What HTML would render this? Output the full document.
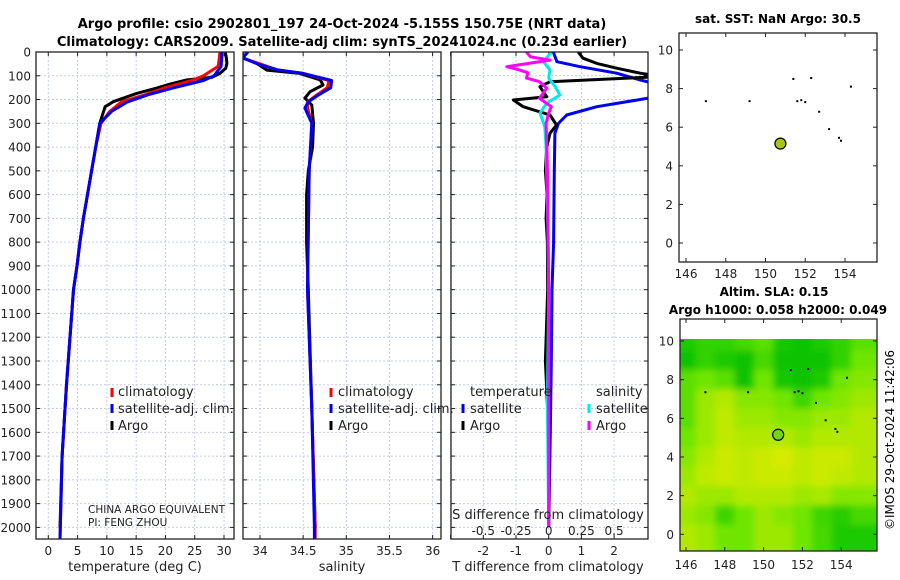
<!DOCTYPE html>
<html><head><meta charset="utf-8"><style>
html,body{margin:0;padding:0;background:#fff;}
svg{display:block;font-family:"DejaVu Sans","Liberation Sans",sans-serif;}
</style></head><body>
<svg id="fig" xmlns="http://www.w3.org/2000/svg" width="900" height="580" viewBox="0 0 900 580">
<defs>
<clipPath id="c1"><rect x="36" y="52" width="198" height="487"/></clipPath>
<clipPath id="c2"><rect x="243" y="52" width="198" height="487"/></clipPath>
<clipPath id="c3"><rect x="451" y="52" width="197" height="487"/></clipPath>
<clipPath id="cm2"><rect x="680" y="339" width="197" height="212"/></clipPath>
<filter id="blur" x="-5%" y="-5%" width="110%" height="110%"><feGaussianBlur stdDeviation="3.5"/></filter>
</defs>
<text x="342" y="28" text-anchor="middle" font-size="13" font-weight="bold">Argo profile: csio 2902801_197 24-Oct-2024 -5.155S 150.75E (NRT data)</text>
<text x="342" y="46" text-anchor="middle" font-size="13" font-weight="bold">Climatology: CARS2009. Satellite-adj clim: synTS_20241024.nc (0.23d earlier)</text>
<text x="778" y="23" text-anchor="middle" font-size="12" font-weight="bold">sat. SST: NaN Argo: 30.5</text>
<text x="774" y="296" text-anchor="middle" font-size="12" font-weight="bold">Altim. SLA: 0.15</text>
<text x="778" y="314" text-anchor="middle" font-size="12" font-weight="bold">Argo h1000: 0.058 h2000: 0.049</text>
<text transform="translate(894,440) rotate(-90)" text-anchor="middle" font-size="12">©IMOS 29-Oct-2024 11:42:06</text>
<g id="layer"></g>
</svg>
<script>
// ---- data ----
const depthTicks = [0,100,200,300,400,500,600,700,800,900,1000,1100,1200,1300,1400,1500,1600,1700,1800,1900,2000];
const tempTicks = [0,5,10,15,20,25,30];
const salTicks = [34,34.5,35,35.5,36];
const salTickLabels = ["34","34.5","35","35.5","36"];
const dTTicks = [-2,-1,0,1,2];
const dSTicks = [-0.5,-0.25,0,0.25,0.5];
const dSTickLabels = ["-0.5","-0.25","0","0.25","0.5"];

const argoDepth = [0,25,48,68,90,106,118,135,152,174,209,230,300,400,500,600,700,800,900,1000,1200,1400,1700,2000];
const argoTemp  = [30.2,30.4,30.5,30.3,29.3,28.0,23.6,20.8,18.5,15.1,11.1,9.7,8.8,8.1,7.4,6.7,6.0,5.4,4.9,4.3,3.7,3.1,2.35,2.0];
const climDepth = [0,25,60,100,120,150,180,210,250,300,400,500,600,700,800,900,1000,1200,1400,1700,2000,2050];
const climTemp  = [29.3,29.2,29.0,26.5,24.5,20.0,16.5,12.5,10.5,9.0,8.1,7.4,6.7,6.0,5.4,4.9,4.3,3.7,3.1,2.35,2.05,2.0];
const satTemp   = [29.6,29.6,29.5,28.3,26.5,21.5,17.0,13.5,10.8,8.8,8.1,7.4,6.7,6.0,5.4,4.9,4.3,3.7,3.1,2.35,2.05,2.0];

const salArgoDepth = [0,25,47,76,90,118,139,167,194,223,300,400,500,600,800,1000,1500,2000];
const argoSal = [33.80,33.80,33.96,34.08,34.46,34.70,34.73,34.58,34.52,34.60,34.62,34.61,34.56,34.54,34.54,34.56,34.60,34.64];
const salClimDepth = [0,25,50,75,90,120,150,180,210,235,260,300,500,1000,1500,2000,2050];
const climSal = [33.80,33.80,34.00,34.20,34.50,34.80,34.78,34.66,34.55,34.55,34.57,34.60,34.57,34.55,34.60,34.64,34.64];
const satSal  = [33.86,33.80,33.97,34.20,34.50,34.83,34.82,34.68,34.56,34.52,34.55,34.60,34.57,34.55,34.60,34.63,34.63];

const dDepth = [0,41,62,89,118,160,195,230,265,300,342,500,800,1000,1300,1600,2000];
const dTSat  = [0.14,0.25,0.96,2.08,2.8,4.0,3.0,1.47,0.55,0.3,0.19,0.17,0.15,0.1,0.08,0.05,0.0];
const dTArgoDepth = [0,26,48,68,89,100,106,125,146,188,202,230,265,307,342,400,500,600,700,800,1000,1300,1600,2000];
const dTArgo = [0.9,1.05,1.47,2.08,2.8,3.3,3.0,0.04,-0.27,-0.06,-1.08,-0.78,0.04,0.24,0.04,-0.06,-0.1,-0.05,-0.08,-0.04,-0.03,-0.1,0.0,0.0];
const dSSatDepth = [0,41,76,110,146,181,215,257,315,400,600,1000,1500,2000];
const dSSat = [0.02,-0.04,0.01,0.0,0.05,0.086,-0.015,-0.066,-0.03,-0.02,-0.01,0.0,-0.01,0.0];
const dSArgoDepth = [0,20,34,62,76,87,110,125,152,195,230,257,300,500,1000,1500,2000];
const dSArgo = [-0.17,-0.14,0.01,-0.32,-0.22,-0.16,-0.17,-0.07,-0.015,-0.07,0.02,0.0,-0.02,-0.01,0.0,0.0,0.0];

const mapLonTicks = [146,148,150,152,154];
const slaLatTicks = [0,2,4,6,8,10];
const argoLon = 150.75, argoLat = 5.15;
const dotLon = [147.0,149.2,151.4,152.3,151.6,151.8,152.0,152.7,153.2,153.7,153.8,154.3];
const dotLat = [7.35,7.35,8.5,8.55,7.35,7.4,7.3,6.8,5.9,5.45,5.3,8.1];
const slaLats = [10,9,8,7,6,5,4,3,2,1,0,-1];
const slaLons = [146,147,148,149,150,151,152,153,154,155];
const slaRows = [
 [0.1,0.2,0.2,0.3,0.4,0.05,0.0,0.1,0.2,0.4],
 [0.0,0.2,0.1,0.0,0.3,0.0,0.0,0.0,0.2,0.5],
 [0.4,0.5,0.4,0.0,0.5,0.05,0.0,0.1,0.5,0.6],
 [0.4,0.7,0.8,0.6,0.6,0.5,0.25,0.5,0.6,0.7],
 [0.4,0.7,0.85,0.7,0.7,0.6,0.6,0.7,0.7,0.8],
 [0.5,0.7,0.85,0.8,0.8,0.8,0.7,0.8,0.8,0.8],
 [0.6,0.8,0.9,0.85,0.9,0.95,0.85,0.9,0.9,0.8],
 [0.7,0.85,0.9,0.85,0.9,0.9,0.85,0.9,0.85,0.8],
 [0.8,0.7,0.7,0.8,0.8,0.8,0.7,0.75,0.6,0.6],
 [0.7,0.6,0.25,0.5,0.7,0.6,0.5,0.25,0.15,0.3],
 [0.8,0.7,0.5,0.5,0.7,0.7,0.5,0.3,0.1,0.1],
 [0.8,0.7,0.5,0.5,0.7,0.7,0.5,0.3,0.1,0.1]
];

// ---- helpers ----
const NS = "http://www.w3.org/2000/svg";
const layer = document.getElementById("layer");
function mk(tag, attrs, parent) {
  const e = document.createElementNS(NS, tag);
  for (const k in attrs) e.setAttribute(k, attrs[k]);
  (parent || layer).appendChild(e);
  return e;
}
const yD = d => 52 + d * 0.2377;
const xT = t => 48.3 + t * 5.857;
const xS = s => 260 + (s - 34) * 86.3;
const xdT = v => 548.7 + v * 32.7;
const xdS = v => 548.7 + v * 130.8;
const m1x = lon => 686 + (lon - 146) * 19.875;
const m1y = lat => 243 - lat * 19.3;
const m2x = lon => 686 + (lon - 146) * 19.4;
const m2y = lat => 534.3 - lat * 19.33;

function frame(x0, x1, xticks, xfn, name) {
  const g = mk("g", {});
  
  
  depthTicks.forEach(d => {
    const l = mk("line", {x1:x0,x2:x1,y1:yD(d),y2:yD(d),stroke:"#c4cbe6","stroke-width":1,"stroke-dasharray":"2,2"}, g);
    
    
    mk("line", {x1:x0,x2:x0+4,y1:yD(d),y2:yD(d),stroke:"#222"}, g);
    mk("line", {x1:x1-4,x2:x1,y1:yD(d),y2:yD(d),stroke:"#222"}, g);
  });
  xticks.forEach(v => {
    const x = xfn(v);
    const l = mk("line", {x1:x,x2:x,y1:52,y2:539,stroke:"#c4cbe6","stroke-width":1,"stroke-dasharray":"2,2"}, g);
    
    
    mk("line", {x1:x,x2:x,y1:535,y2:539,stroke:"#222"}, g);
    mk("line", {x1:x,x2:x,y1:52,y2:56,stroke:"#222"}, g);
  });
  return g;
}
function box(x0, y0, x1, y1, name) {
  const r = mk("rect", {x:x0,y:y0,width:x1-x0,height:y1-y0,fill:"none",stroke:"#222","stroke-width":1.3});
  
  
}
function series(depths, vals, xfn, color, clip, name, w) {
  const pts = depths.map((d, i) => xfn(vals[i]).toFixed(1) + "," + yD(d).toFixed(1)).join(" ");
  const p = mk("polyline", {points:pts,fill:"none",stroke:color,"stroke-width":w||3,"stroke-linejoin":"round","clip-path":"url(#" + clip + ")"});
  
  
}
function text(x, y, s, anchor, size, name) {
  const t = mk("text", {x:x,y:y,"text-anchor":anchor,"font-size":size,fill:"#222"});
  t.textContent = s;
  
  
  return t;
}
function legendMark(x, y, color, name) {
  const r = mk("rect", {x:x-1.5,y:y-4,width:3,height:9,fill:color});
  
  
}

// ---- panel 1: temperature ----
frame(36, 234, tempTicks, xT, "temperature-panel-grid");
depthTicks.forEach(d => text(31, yD(d) + 4.5, String(d), "end", 12, "depth-tick-label"));
tempTicks.forEach(t => text(xT(t), 555, String(t), "middle", 12, "temperature-tick-label"));
series(argoDepth, argoTemp, xT, "#000", "c1", "argo-temperature-line");
series(climDepth, climTemp, xT, "#f00", "c1", "climatology-temperature-line");
series(climDepth, satTemp, xT, "#0000f0", "c1", "satellite-temperature-line");
box(36, 52, 234, 539, "temperature-panel-frame");
text(135, 571, "temperature (deg C)", "middle", 13, "temperature-axis-title");
legendMark(112, 392, "#f00", "legend-climatology-marker"); text(118, 396, "climatology", "start", 13, "legend-climatology");
legendMark(112, 408, "#0000f0", "legend-satellite-marker"); text(118, 413, "satellite-adj. clim.", "start", 13, "legend-satellite-adj");
legendMark(112, 425, "#000", "legend-argo-marker"); text(118, 430, "Argo", "start", 13, "legend-argo");
text(88, 513, "CHINA ARGO EQUIVALENT", "start", 10.5, "institution-label");
text(88, 526, "PI: FENG ZHOU", "start", 10.5, "pi-label");

// ---- panel 2: salinity ----
frame(243, 441, salTicks, xS, "salinity-panel-grid");
salTicks.forEach((s, i) => text(xS(s), 555, salTickLabels[i], "middle", 12, "salinity-tick-label"));
series(salArgoDepth, argoSal, xS, "#000", "c2", "argo-salinity-line");
series(salClimDepth, climSal, xS, "#f00", "c2", "climatology-salinity-line");
series(salClimDepth, satSal, xS, "#0000f0", "c2", "satellite-salinity-line");
box(243, 52, 441, 539, "salinity-panel-frame");
text(342, 571, "salinity", "middle", 13, "salinity-axis-title");
legendMark(331, 392, "#f00", "legend-climatology-marker-2"); text(338, 396, "climatology", "start", 13, "legend-climatology-2");
legendMark(331, 408, "#0000f0", "legend-satellite-marker-2"); text(338, 413, "satellite-adj. clim.", "start", 13, "legend-satellite-adj-2");
legendMark(331, 425, "#000", "legend-argo-marker-2"); text(338, 430, "Argo", "start", 13, "legend-argo-2");

// ---- panel 3: differences ----
frame(451, 648, [-3].concat(dTTicks), xdT, "difference-panel-grid");
dTTicks.forEach(v => text(xdT(v), 555, String(v), "middle", 12, "t-difference-tick-label"));
series(dDepth, dTSat, xdT, "#0000f0", "c3", "satellite-t-difference-line");
series(dTArgoDepth, dTArgo, xdT, "#000", "c3", "argo-t-difference-line");
series(dSSatDepth, dSSat, xdS, "#00e8e8", "c3", "satellite-s-difference-line");
series(dSArgoDepth, dSArgo, xdS, "#f0f", "c3", "argo-s-difference-line");
box(451, 52, 648, 539, "difference-panel-frame");
text(548, 571, "T difference from climatology", "middle", 13, "t-difference-axis-title");
text(548, 519, "S difference from climatology", "middle", 13, "s-difference-axis-title");
dSTicks.forEach((v, i) => text(xdS(v), 535, dSTickLabels[i], "middle", 12, "s-difference-tick-label"));
text(470, 396, "temperature", "start", 13, "legend-temperature-heading");
legendMark(463, 408, "#0000f0", "legend-t-satellite-marker"); text(470, 413, "satellite", "start", 13, "legend-t-satellite");
legendMark(463, 425, "#000", "legend-t-argo-marker"); text(470, 430, "Argo", "start", 13, "legend-t-argo");
text(596, 396, "salinity", "start", 13, "legend-salinity-heading");
legendMark(589, 408, "#00e8e8", "legend-s-satellite-marker"); text(596, 413, "satellite", "start", 13, "legend-s-satellite");
legendMark(589, 425, "#f0f", "legend-s-argo-marker"); text(596, 430, "Argo", "start", 13, "legend-s-argo");

// ---- map 1: SST ----
function mapTicks(x0, y0, x1, y1, xfn, yfn, lats, labelY, prefix) {
  mapLonTicks.forEach(l => {
    const x = xfn(l);
    mk("line", {x1:x,x2:x,y1:y1-4,y2:y1,stroke:"#222"});
    mk("line", {x1:x,x2:x,y1:y0,y2:y0+4,stroke:"#222"});
    text(x, labelY, String(l), "middle", 12, prefix + "-lon-tick-label");
  });
  lats.forEach(l => {
    const y = yfn(l);
    mk("line", {x1:x0,x2:x0+4,y1:y,y2:y,stroke:"#222"});
    mk("line", {x1:x1-4,x2:x1,y1:y,y2:y,stroke:"#222"});
    text(x0 - 6, y + 4.5, String(l), "end", 12, prefix + "-lat-tick-label");
  });
}
function dots(xfn, yfn, name) {
  dotLon.forEach((lon, i) => {
    const r = mk("rect", {x:xfn(lon)-1,y:yfn(dotLat[i])-1,width:2,height:2,fill:"#000"});
    
    
  });
}
dots(m1x, m1y, "sst-argo-dot");
const c1 = mk("circle", {cx:m1x(argoLon),cy:m1y(argoLat),r:5.5,fill:"#a8c810",stroke:"#000","stroke-width":1.2});


box(679, 33, 877, 262, "sst-map-frame");
mapTicks(679, 33, 877, 262, m1x, m1y, [0,2,4,6,8,10], 278, "sst-map");

// ---- map 2: SLA heatmap ----
function slaColor(v) {
  let r, g, b = 0;
  if (v < 0.5) { const f = v / 0.5; r = 10 + 100 * f; g = 195 + 35 * f; }
  else { const f = (v - 0.5) / 0.5; r = 110 + 115 * f; g = 230 + 5 * f; }
  return "rgb(" + Math.round(r) + "," + Math.round(g) + "," + b + ")";
}
const hm = mk("g", {"clip-path":"url(#cm2)"});


const hmInner = mk("g", {filter:"url(#blur)"}, hm);
slaLats.forEach((lat, i) => {
  slaLons.forEach((lon, j) => {
    let x0 = m2x(lon - 0.5), x1 = m2x(lon + 0.5);
    if (j === 0) x0 -= 20;
    if (j === slaLons.length - 1) x1 += 20;
    let yTop = m2y(lat + 0.5), yBot = m2y(lat - 0.5);
    if (i === 0) yTop -= 20;
    if (i === slaLats.length - 1) yBot += 20;
    const c = mk("rect", {x:x0,y:yTop,width:x1-x0+0.5,height:yBot-yTop+0.5,fill:slaColor(slaRows[i][j])}, hmInner);
    
    
  });
});
dots(m2x, m2y, "sla-argo-dot");
const c2 = mk("circle", {cx:m2x(argoLon),cy:m2y(argoLat),r:5.5,fill:"#70d810",stroke:"#000","stroke-width":1.2});


box(680, 319, 877, 551, "sla-map-frame");
mapTicks(680, 319, 877, 551, m2x, m2y, slaLatTicks, 569, "sla-map");
</script>
</body></html>
